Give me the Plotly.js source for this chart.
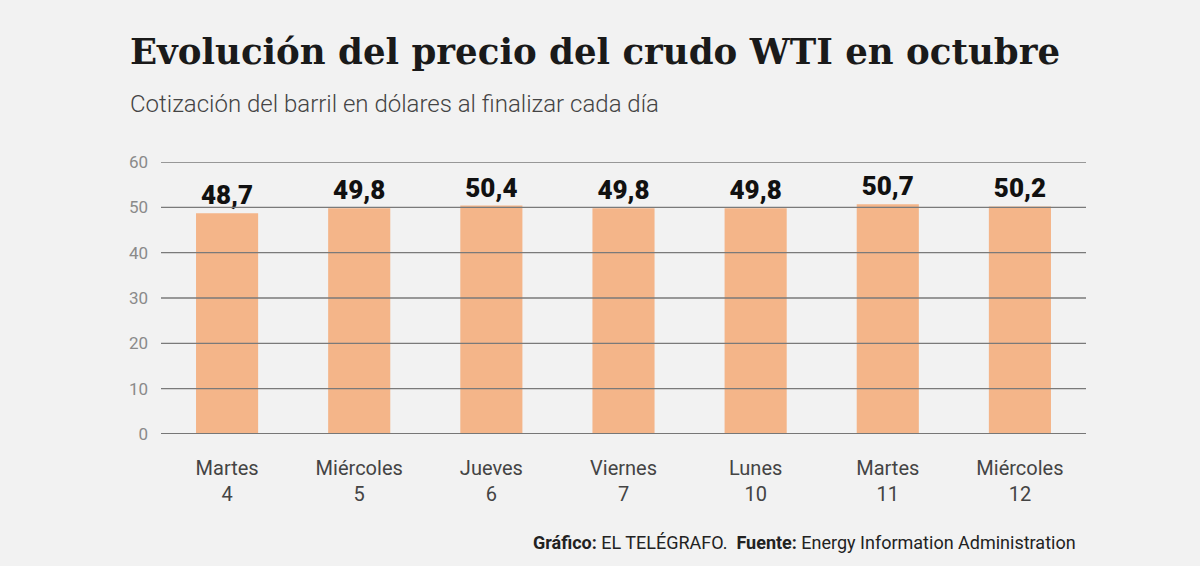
<!DOCTYPE html>
<html><head><meta charset="utf-8">
<script src="https://cdn.plot.ly/plotly-3.0.1.min.js"></script>
<style>html,body{margin:0;padding:0;background:#f2f2f2;}#chart{width:1200px;height:566px;}</style>
</head><body><div id="chart"></div>
<script>
const days = ["Martes<br>4","Miércoles<br>5","Jueves<br>6","Viernes<br>7","Lunes<br>10","Martes<br>11","Miércoles<br>12"];
const prices = [48.7, 49.8, 50.4, 49.8, 49.8, 50.7, 50.2];
const yTicks = [0, 10, 20, 30, 40, 50, 60];

const trace = {
  type: 'bar', x: days, y: prices,
  marker: {color: '#f4b589'},
  text: prices, texttemplate: '%{y:.1f}', textposition: 'outside',
  textfont: {family: 'Roboto', size: 26, color: '#111', weight: 900},
  cliponaxis: false, hoverinfo: 'skip'
};
const gridShapes = yTicks.map(v => ({
  type: 'line', xref: 'paper', yref: 'y', x0: 0, x1: 1, y0: v, y1: v,
  line: {color: v === 0 ? '#777' : '#7a7a7a', width: v === 0 ? 2 : 1.3}, layer: 'above'
}));
const layout = {
  width: 1200, height: 566,
  paper_bgcolor: '#f2f2f2', plot_bgcolor: '#f2f2f2',
  separators: ',.',
  margin: {l: 161, r: 114, t: 162, b: 132},
  showlegend: false,
  bargap: 0.53,
  xaxis: {type: 'category', tickfont: {family: 'Roboto', size: 20, color: '#444'}, showgrid: false, zeroline: false, showline: false, ticks: '', ticklabelstandoff: 20},
  yaxis: {range: [0, 60], tickvals: yTicks, showgrid: false, zeroline: false, showline: false,
          tickfont: {family: 'Roboto', size: 17, color: '#8a8a8a'}, ticklabelstandoff: 12, fixedrange: true},
  shapes: gridShapes,
  annotations: [
    {xref: 'paper', yref: 'paper', x: -0.036, y: 1.405, xanchor: 'left', yanchor: 'middle', showarrow: false,
     text: '<b>Evolución del precio del crudo WTI en octubre</b>',
     font: {family: 'DejaVu Serif', size: 35.6, color: '#1a1a1a'}},
    {xref: 'paper', yref: 'paper', x: -0.036, y: 1.214, xanchor: 'left', yanchor: 'middle', showarrow: false,
     text: 'Cotización del barril en dólares al finalizar cada día',
     font: {family: 'Roboto', size: 24, color: '#444', weight: 300}},
    {xref: 'paper', yref: 'paper', x: 0.9914, y: -0.40, xanchor: 'right', yanchor: 'middle', showarrow: false,
     text: '<b>Gráfico:</b> EL TELÉGRAFO.  <b>Fuente:</b> Energy Information Administration',
     font: {family: 'Roboto', size: 18, color: '#222'}}
  ]
};
Plotly.newPlot('chart', [trace], layout, {staticPlot: true, displayModeBar: false});
</script></body></html>
